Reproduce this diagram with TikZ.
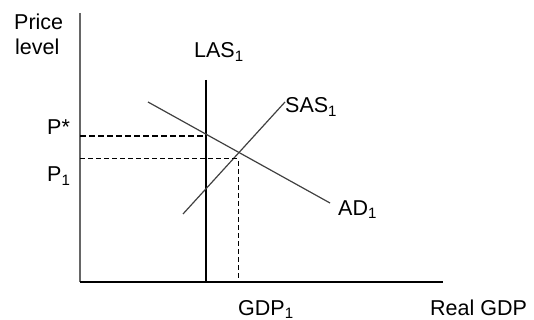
\documentclass[tikz,border=0pt]{standalone}
\usepackage{fontspec}
\setmainfont{Liberation Sans}
\begin{document}
\begin{tikzpicture}[x=1pt,y=-1pt,
  lbl/.style={inner sep=0pt,anchor=base west,font=\fontsize{21.5}{24}\selectfont},
  axis/.style={line width=1.8pt},
  curve/.style={line width=1.2pt,draw=black!75},
  guide/.style={line width=1pt,dash pattern=on 5pt off 3pt},
  guidebold/.style={line width=2pt,dash pattern=on 6pt off 3pt}]
\useasboundingbox (0,0) rectangle (534,320);
% axes
\coordinate (ytop) at (80,13);
\coordinate (o) at (80,282);
\coordinate (xend) at (443,282);
\draw[axis,draw=black!60,line width=2.5pt] (ytop) -- (o);
\draw[axis] (o) -- (xend);
% LAS
\coordinate (lastop) at (206,80);
\coordinate (lasbot) at (206,282);
\draw[line width=1.1pt] (lastop) -- (lasbot);
% AD
\coordinate (ad1) at (148,102);
\coordinate (ad2) at (330,203);
\draw[curve] (ad1) -- (ad2);
% SAS
\coordinate (sas1) at (183,214);
\coordinate (sas2) at (285,102);
\draw[curve] (sas1) -- (sas2);
% guides
\coordinate (pstarL) at (80,136);
\coordinate (pstarR) at (206,136);
\draw[guidebold] (pstarL) -- (pstarR);
\coordinate (p1L) at (80,159);
\coordinate (p1R) at (238,159);
\coordinate (gdpB) at (238,282);
\draw[guide] (p1L) -- (p1R) -- (gdpB);
% labels
\node[lbl] (price) at (14,30) {Price};
\node[lbl] (level) at (15,55) {level};
\node[lbl] (las) at (194,58) {LAS\textsubscript{1}};
\node[lbl] (pstar) at (47,135) {P*};
\node[lbl] (p1) at (47,182) {P\textsubscript{1}};
\node[lbl] (sas) at (285,113) {SAS\textsubscript{1}};
\node[lbl] (ad) at (338,215) {AD\textsubscript{1}};
\node[lbl] (gdp) at (238,315) {GDP\textsubscript{1}};
\node[lbl] (real) at (430,315) {Real GDP};
\end{tikzpicture}
\end{document}
